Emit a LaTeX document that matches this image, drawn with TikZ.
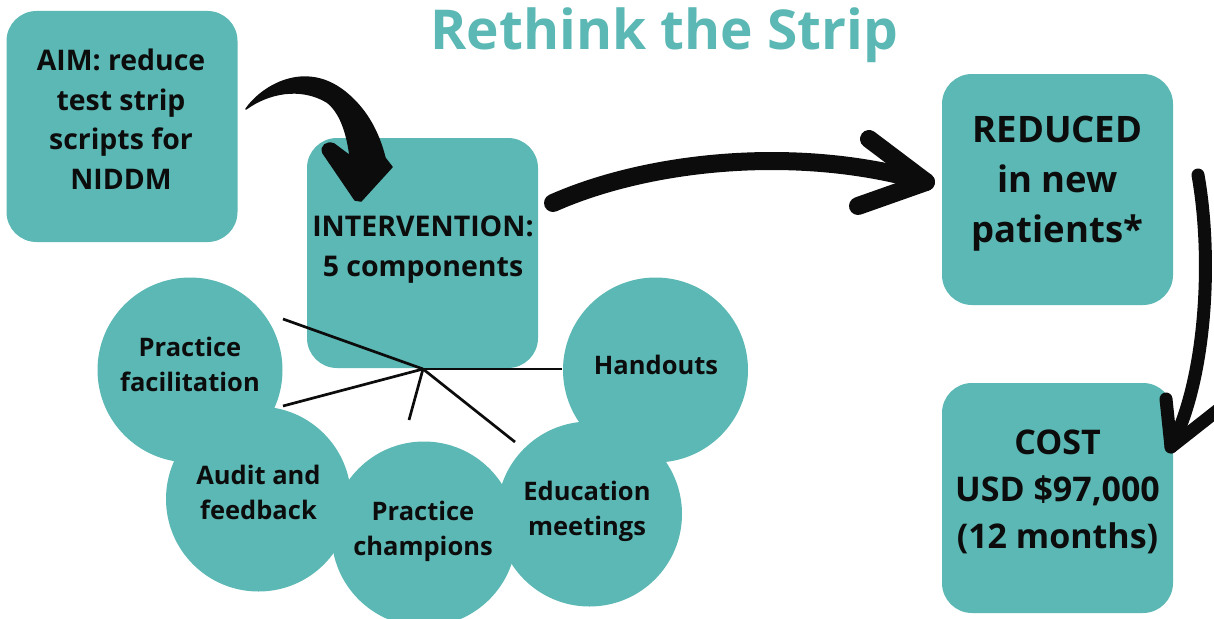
\documentclass[tikz,border=0pt]{standalone}
\usepackage{fontspec}
\setmainfont{Open Sans}
\definecolor{teal}{RGB}{91,184,180}
\definecolor{ink}{RGB}{12,12,12}
\begin{document}
\begin{tikzpicture}[x=1pt,y=-1pt,
  box/.style={fill=teal, rounded corners=30pt, minimum width=231pt, minimum height=231pt,
              inner sep=0pt},
  bubble/.style={circle, fill=teal, minimum size=185pt, inner sep=0pt},
  label/.style={align=center, text=ink, inner sep=0pt},
  bubbletext/.style={label, font=\fontsize{25.5}{35}\selectfont\bfseries},
  spoke/.style={line width=2.7pt, draw=ink},
  stroke/.style={draw=ink, line cap=round, line join=round}]
\useasboundingbox (0,0) rectangle (1214,618);

% title
\node[anchor=base, text=teal, font=\fontsize{55}{60}\selectfont\bfseries, inner sep=0pt]
  (title) at (664.5,50) {Rethink the Strip};

% five component bubbles
\node[bubble] (pf) at (190,370)   {};
\node[bubble] (af) at (258.5,499) {};
\node[bubble] (pc) at (424,534)   {};
\node[bubble] (em) at (589.5,514) {};
\node[bubble] (ho) at (655.5,370) {};
\node[bubbletext] (pf-t) at (190,364)   {Practice\\facilitation};
\node[bubbletext] (af-t) at (258.5,492) {Audit and\\feedback};
\node[bubbletext] (pc-t) at (423,531)   {Practice\\champions};
\node[bubbletext] (em-t) at (587,511)   {Education\\meetings};
\node[bubbletext] (ho-t) at (656,365)   {Handouts};

% main boxes
\node[box] (aim)  at (122,126.5)    {};
\node[box, minimum height=230pt] (int)  at (422.5,253) {};
\node[box] (red)  at (1057.5,189.5) {};
\node[box, minimum height=230pt] (cost) at (1057.5,498) {};
\node[label, font=\fontsize{28.4}{39.5}\selectfont\bfseries] (aim-t) at (121,119)
  {AIM: reduce\\test strip\\scripts for\\NIDDM};
\node[label, font=\fontsize{28.5}{40}\selectfont\bfseries] (int-t) at (423,250)
  {INTERVENTION:\\5 components};
\node[label, font=\fontsize{36.5}{50}\selectfont\bfseries] (red-t) at (1057.5,184)
  {REDUCED\\in new\\patients*};
\node[label, font=\fontsize{34}{47}\selectfont\bfseries] (cost-t) at (1057.5,492)
  {COST\\USD \$97,000\\(12 months)};

% spokes from the hub towards the components
\coordinate (hub) at (423,369);
\coordinate (sPF) at (283,319);
\coordinate (sAF) at (283,406);
\coordinate (sPC) at (409,420);
\coordinate (sEM) at (515,442);
\coordinate (sHO) at (562,369);
\foreach \e in {sPF,sAF,sPC,sEM,sHO} \draw[spoke] (hub) -- (\e);

% hand-drawn arrow: aim -> intervention (tapered brush stroke with its head)
\filldraw[ink, line width=1.5pt, line join=round]
  (246,109) .. controls (262,86) and (305,60) .. (345,92)
  .. controls (365,108) and (378,130) .. (385,158)
  -- (392,167) -- (361,201) -- (355,200) -- (323,153)
  .. controls (320,146) and (327,141) .. (334,144)
  -- (350,156)
  .. controls (347,132) and (340,112) .. (327,102)
  .. controls (300,86) and (268,93) .. cycle;

% hand-drawn arrow: intervention -> reduced
\coordinate (t2) at (553,203);
\coordinate (p2) at (926,182);
\draw[stroke, line width=18pt] (t2) .. controls (650,160) and (800,145) .. (p2);
\coordinate (h2a) at (869,139);
\coordinate (h2b) at (858,206);
\draw[stroke, line width=18pt] (h2a) -- (p2) -- (h2b);

% hand-drawn arrow: reduced -> cost
\coordinate (t3) at (1198,175);
\coordinate (p3) at (1171,447);
\draw[stroke, line width=13pt] (t3) .. controls (1213,260) and (1206,380) .. (p3);
\coordinate (h3a) at (1166,399);
\coordinate (h3b) at (1218,410);
\draw[stroke, line width=13pt] (h3a) -- (p3) -- (h3b);
\end{tikzpicture}
\end{document}
